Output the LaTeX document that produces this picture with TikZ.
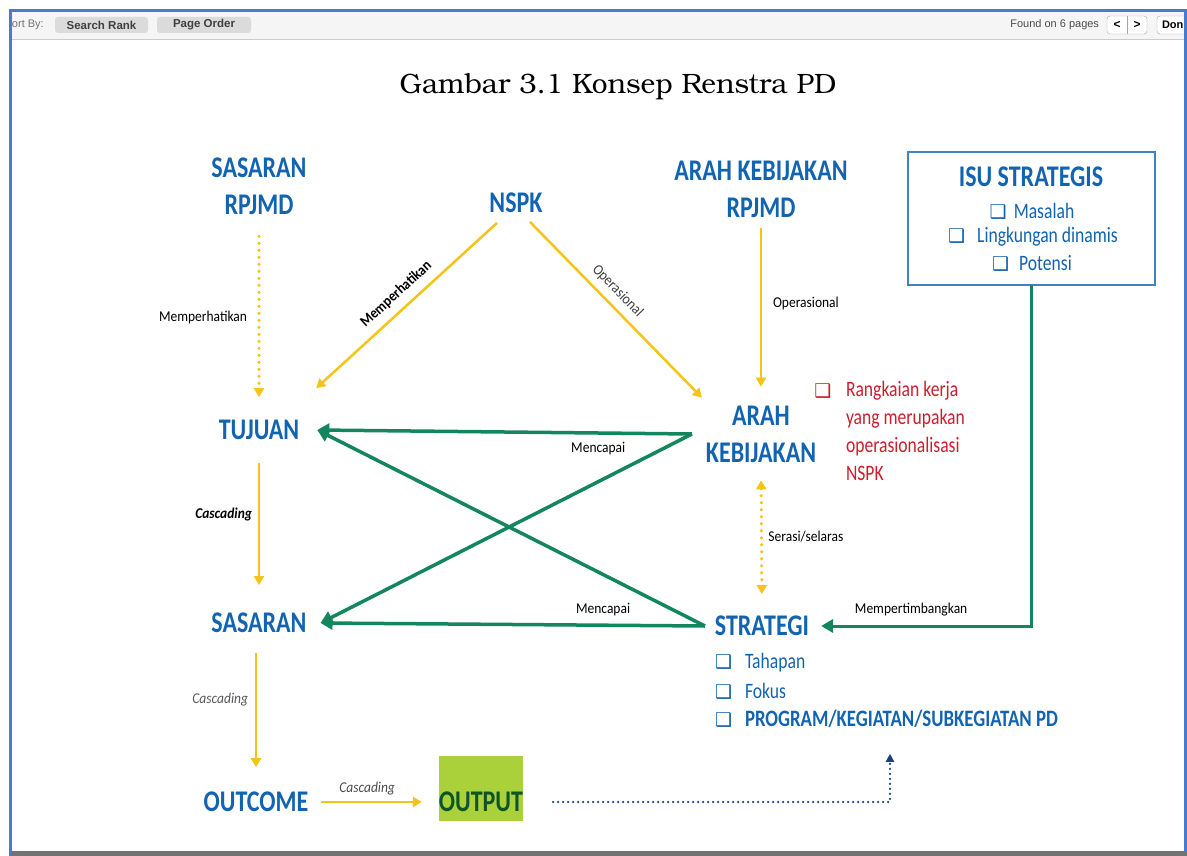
\documentclass[tikz,border=0pt]{standalone}
\usepackage{fontspec}
\usetikzlibrary{arrows.meta,positioning}
\newfontfamily\calfont[FakeStretch=0.8]{Carlito}
\newfontfamily\tagfont[FakeStretch=0.9]{Carlito}
\newfontfamily\uifont{Liberation Sans}
\newfontfamily\symfont{DejaVu Sans}
\newfontfamily\titlefont{texgyrebonum-regular.otf}
\definecolor{renblue}{RGB}{18,100,176}
\definecolor{rengold}{RGB}{246,196,24}
\definecolor{rengreen}{RGB}{20,134,94}
\definecolor{renred}{RGB}{206,30,46}
\definecolor{rennavy}{RGB}{30,62,124}
\definecolor{renlime}{RGB}{170,208,58}
\definecolor{outgreen}{RGB}{14,84,40}
\definecolor{renframe}{RGB}{72,122,206}
\begin{document}
\begin{tikzpicture}[
			x=1pt,y=-1pt,
			every node/.style={inner sep=0pt,outer sep=0pt},
			head/.style={font=\calfont\fontsize{30}{37}\selectfont\bfseries,text=renblue,align=center},
			item/.style={font=\calfont\fontsize{22}{28}\selectfont,text=renblue,anchor=west},
			tag/.style={font=\tagfont\fontsize{15}{16}\selectfont,text=black},
			btn/.style={fill=black!14,rounded corners=3pt,minimum height=16pt,font=\uifont\bfseries\fontsize{11.5}{12}\selectfont,text=black!75},
			golden/.style={draw=rengold,line width=2.5pt,-{Triangle[width=10pt,length=9pt]}},
			goldot/.style={golden,line cap=round,dash pattern=on 0pt off 7pt,line width=3.5pt},
			teal/.style={draw=rengreen,line width=3.5pt,-{Triangle[width=13pt,length=12pt]}}
			]
			\useasboundingbox (0,0) rectangle (1187,856);
			\fill[white] (0,0) rectangle (1187,856);
			\def\chk{{\symfont\bfseries\fontsize{19}{19}\selectfont ❑}}
			% toolbar
			\fill[black!4] (12,12) rectangle (1187,39);
			\draw[black!20] (12,39.5) -- (1187,39.5);
			\node[anchor=west,font=\uifont\fontsize{11}{12}\selectfont,text=black!55] (sortby) at (12,25) {ort By:};
			\node[btn,minimum width=93pt] (srank) at (101.5,25) {Search Rank};
			\node[btn,minimum width=94pt] (porder) at (204,25) {Page Order};
			\node[anchor=east,font=\uifont\fontsize{11}{12}\selectfont,text=black!70] (found) at (1099,25) {Found on 6 pages};
			\draw[black!35,fill=white,rounded corners=3pt] (1107,16) rectangle (1147,34);
			\draw[black!35] (1127,16) -- (1127,34);
			\node[font=\uifont\bfseries\fontsize{12}{12}\selectfont] (prev) at (1117,25) {<};
			\node[font=\uifont\bfseries\fontsize{12}{12}\selectfont] (next) at (1137,25) {>};
			\draw[black!35,fill=white,rounded corners=3pt] (1157,16) rectangle (1200,34);
			\node[anchor=west,font=\uifont\bfseries\fontsize{11}{12}\selectfont] (done) at (1162,25) {Don};
			% frame
			\fill[black!55] (10,851) rectangle (1187,856);
			\draw[renframe,line width=3pt] (10,856) -- (10,10.5) -- (1185.5,10.5) -- (1185.5,851);
			% title
			\node[font=\titlefont\fontsize{28}{30}\selectfont] (title) at (618,87) {Gambar 3.1 Konsep Renstra PD};
			% nodes
			\node[head] (sasrpjmd) at (259,186) {SASARAN\\RPJMD};
			\node[head] (nspk) at (516,203) {NSPK};
			\node[head] (arahrpjmd) at (761,189) {ARAH KEBIJAKAN\\RPJMD};
			\node[draw=renblue!80,line width=1.6pt,minimum width=247pt,minimum height=133pt] (isu) at (1031.5,218.5) {};
			\node[head] (isutitle) at (1031,177) {ISU STRATEGIS};
			\node[item,anchor=center] (masalah) at (1032,211) {\chk\hspace{7pt}Masalah};
			\node[item,anchor=center] (lingkungan) at (1033,237) {\chk\hspace{12pt}Lingkungan dinamis};
			\node[item,anchor=center] (potensi) at (1032,263) {\chk\hspace{10pt}Potensi};
			\node[head] (tujuan) at (259,430) {TUJUAN};
			\node[head] (arah) at (761,434) {ARAH\\KEBIJAKAN};
			\node[text=renred] (notechk) at (823,391) {\chk};
			\node[item,anchor=north west,text=renred,align=left] (note) at (846,381) {Rangkaian kerja\\yang merupakan\\operasionalisasi\\NSPK};
			\node[head] (sasaran) at (259,623) {SASARAN};
			\node[head] (strategi) at (762,626) {STRATEGI};
			\node[item] (tahapan) at (715,663) {\chk\hspace{13pt}Tahapan};
			\node[item] (fokus) at (715,691) {\chk\hspace{13pt}Fokus};
			\node[item,font=\calfont\fontsize{23.5}{28}\selectfont] (program) at (715,719) {\chk\hspace{13pt}\bfseries PROGRAM/KEGIATAN/SUBKEGIATAN PD};
			\node[head] (outcome) at (256,802) {OUTCOME};
			\fill[renlime] (439,756) rectangle (523,821);
			\node[head,text=outgreen] (output) at (481,802) {OUTPUT};
			% yellow connectors
			\draw[goldot,shorten <=22pt,shorten >=23pt] (sasrpjmd) -- (tujuan) node[tag,pos=0.5,left=12pt] {Memperhatikan};
			\draw[golden] ([shift={(-19,10)}]nspk.south) -- ([shift={(17,-32)}]tujuan.north east) node[tag,pos=0.5,sloped,above=9pt,font=\tagfont\fontsize{15}{16}\selectfont\bfseries] {Memperhatikan};
			\draw[golden] ([shift={(14,9)}]nspk.south) -- ([shift={(-4,-8)}]arah.north west) node[tag,pos=0.45,sloped,above=8pt,text=black!75] {Operasional};
			\draw[golden,shorten <=11pt,shorten >=19pt] (arahrpjmd.south) -- (arah.north) node[tag,pos=0.46,right=12pt] {Operasional};
			\draw[goldot,{Triangle[width=10pt,length=9pt]}-{Triangle[width=10pt,length=9pt]},shorten <=18pt,shorten >=22pt] (arah.south) -- (strategi.north) node[tag,pos=0.48,right=7pt] {Serasi/selaras};
			\draw[golden,shorten <=23pt,shorten >=28pt] (tujuan) -- (sasaran) node[tag,pos=0.43,left=7pt,font=\tagfont\fontsize{15}{16}\selectfont\itshape\bfseries] {Cascading};
			\draw[golden,shorten <=20pt,shorten >=25pt] (sasaran.south -| outcome.north) -- (outcome.north) node[tag,pos=0.42,left=8pt,text=black!65,font=\tagfont\fontsize{15}{16}\selectfont\itshape] {Cascading};
			\draw[golden,shorten <=13pt,shorten >=17pt] (outcome) -- (output) node[tag,pos=0.45,above=7pt,text=black!70,font=\tagfont\fontsize{15}{16}\selectfont\itshape] {Cascading};
			% green connectors
			\draw[teal] ([xshift=-14pt]arah.west) -- ([xshift=18pt]tujuan.east) node[tag,pos=0.25,below=9pt] {Mencapai};
			\draw[teal] ([xshift=-14pt]arah.west) -- ([xshift=14pt]sasaran.east);
			\draw[teal] ([xshift=-10pt]strategi.west) -- ([xshift=14pt]sasaran.east) node[tag,pos=0.265,above=9pt] {Mencapai};
			\draw[teal] ([xshift=-10pt]strategi.west) -- ([xshift=18pt]tujuan.east);
			\draw[teal,line width=3pt] (isu.south) |- ([xshift=12pt]strategi.east) node[tag,pos=0.786,above=10pt] {Mempertimbangkan};
			% output to program
			\draw[rennavy,line width=2.5pt,line cap=round,dash pattern=on 0pt off 5pt,-{Triangle[width=8pt,length=8pt]}] ([xshift=30pt]output.east) -| ([yshift=-26pt]program.south -| 890,0);
		\end{tikzpicture}
\end{document}
